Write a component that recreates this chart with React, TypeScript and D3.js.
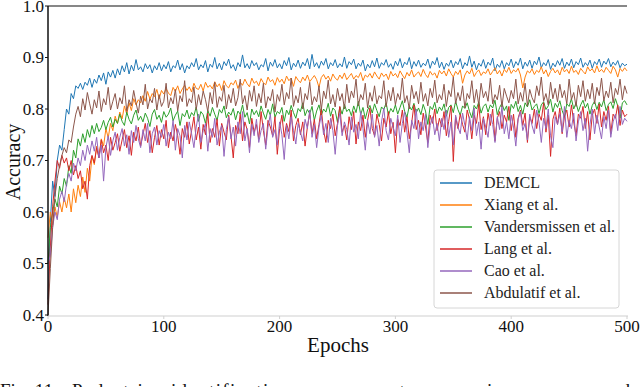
import React from 'react';
import * as d3 from 'd3';

// one reading every 2 epochs, 0..500
const epochs = d3.range(0, 501, 2);

const demcl = [
  0.43, 0.58, 0.66, 0.63, 0.70, 0.73, 0.72, 0.76, 0.80, 0.79,
  0.83, 0.82, 0.845, 0.84, 0.85, 0.838, 0.852, 0.846, 0.86, 0.842,
  0.858, 0.85, 0.866, 0.855, 0.87, 0.848, 0.872, 0.862, 0.875, 0.86,
  0.878, 0.866, 0.884, 0.872, 0.89, 0.868, 0.885, 0.874, 0.896, 0.876,
  0.882, 0.872, 0.888, 0.878, 0.886, 0.87, 0.884, 0.876, 0.89, 0.874,
  0.886, 0.878, 0.892, 0.872, 0.884, 0.88, 0.895, 0.876, 0.888, 0.87,
  0.884, 0.878, 0.89, 0.882, 0.898, 0.876, 0.886, 0.88, 0.894, 0.872,
  0.887, 0.881, 0.9, 0.878, 0.889, 0.876, 0.892, 0.884, 0.897, 0.879,
  0.886, 0.874, 0.89, 0.882, 0.905, 0.88, 0.888, 0.878, 0.894, 0.884,
  0.89, 0.876, 0.886, 0.882, 0.898, 0.874, 0.891, 0.883, 0.896, 0.88,
  0.888, 0.878, 0.894, 0.884, 0.9, 0.876, 0.889, 0.882, 0.895, 0.879,
  0.891, 0.884, 0.898, 0.878, 0.906, 0.882, 0.89, 0.879, 0.893, 0.885,
  0.898, 0.878, 0.89, 0.884, 0.896, 0.88, 0.888, 0.882, 0.901, 0.879,
  0.892, 0.886, 0.897, 0.878, 0.889, 0.883, 0.895, 0.874, 0.887, 0.88,
  0.894, 0.882, 0.899, 0.879, 0.89, 0.885, 0.896, 0.881, 0.888, 0.877,
  0.893, 0.884, 0.898, 0.88, 0.891, 0.886, 0.9, 0.878, 0.892, 0.883,
  0.895, 0.881, 0.889, 0.884, 0.897, 0.879, 0.893, 0.886, 0.9, 0.88,
  0.891, 0.877, 0.889, 0.883, 0.895, 0.88, 0.892, 0.886, 0.898, 0.878,
  0.89, 0.884, 0.903, 0.881, 0.893, 0.876, 0.889, 0.883, 0.896, 0.879,
  0.891, 0.885, 0.899, 0.874, 0.887, 0.881, 0.894, 0.878, 0.89, 0.884,
  0.897, 0.88, 0.892, 0.885, 0.899, 0.878, 0.891, 0.883, 0.895, 0.879,
  0.893, 0.886, 0.901, 0.88, 0.89, 0.884, 0.896, 0.877, 0.889, 0.882,
  0.894, 0.885, 0.898, 0.879, 0.891, 0.884, 0.897, 0.88, 0.892, 0.886,
  0.899, 0.881, 0.89, 0.884, 0.895, 0.879, 0.892, 0.886, 0.897, 0.881,
  0.893, 0.887, 0.898, 0.882, 0.891, 0.885, 0.894, 0.88, 0.889, 0.884,
  0.887,
];

const xiang = [
  0.55, 0.60, 0.575, 0.61, 0.59, 0.62, 0.60, 0.628, 0.608, 0.635,
  0.60, 0.645, 0.618, 0.652, 0.63, 0.668, 0.638, 0.685, 0.66, 0.708,
  0.692, 0.728, 0.706, 0.742, 0.728, 0.762, 0.744, 0.772, 0.758, 0.786,
  0.772, 0.794, 0.781, 0.806, 0.79, 0.812, 0.797, 0.82, 0.808, 0.818,
  0.812, 0.826, 0.815, 0.834, 0.819, 0.83, 0.824, 0.838, 0.82, 0.836,
  0.829, 0.84, 0.831, 0.826, 0.842, 0.834, 0.845, 0.83, 0.839, 0.846,
  0.836, 0.843, 0.833, 0.85, 0.84, 0.838, 0.848, 0.835, 0.852, 0.842,
  0.846, 0.839, 0.853, 0.843, 0.849, 0.836, 0.855, 0.845, 0.841, 0.851,
  0.847, 0.856, 0.84, 0.852, 0.846, 0.858, 0.849, 0.843, 0.86, 0.85,
  0.854, 0.845, 0.859, 0.851, 0.847, 0.862, 0.853, 0.857, 0.846, 0.861,
  0.852, 0.858, 0.849, 0.864, 0.855, 0.86, 0.844, 0.863, 0.856, 0.851,
  0.862, 0.855, 0.866, 0.853, 0.859, 0.865, 0.857, 0.842, 0.861, 0.867,
  0.858, 0.864, 0.854, 0.868, 0.86, 0.856, 0.866, 0.859, 0.87, 0.857,
  0.863, 0.869, 0.858, 0.865, 0.861, 0.871, 0.855, 0.866, 0.862, 0.869,
  0.86, 0.872, 0.864, 0.858, 0.87, 0.863, 0.868, 0.857, 0.873, 0.864,
  0.869, 0.861, 0.874, 0.866, 0.859, 0.871, 0.864, 0.876, 0.862, 0.868,
  0.872, 0.863, 0.877, 0.867, 0.861, 0.873, 0.866, 0.87, 0.86, 0.875,
  0.868, 0.874, 0.864, 0.878, 0.869, 0.862, 0.873, 0.867, 0.876, 0.85,
  0.866, 0.874, 0.868, 0.879, 0.863, 0.871, 0.876, 0.865, 0.872, 0.869,
  0.878, 0.866, 0.873, 0.88, 0.868, 0.875, 0.864, 0.877, 0.871, 0.881,
  0.869, 0.876, 0.872, 0.879, 0.866, 0.841, 0.862, 0.874, 0.87, 0.878,
  0.867, 0.875, 0.871, 0.882, 0.868, 0.876, 0.863, 0.873, 0.879, 0.87,
  0.876, 0.866, 0.881, 0.872, 0.877, 0.869, 0.883, 0.871, 0.875, 0.867,
  0.879, 0.873, 0.868, 0.882, 0.874, 0.878, 0.87, 0.884, 0.872, 0.877,
  0.871, 0.881, 0.875, 0.869, 0.883, 0.876, 0.862, 0.879, 0.873, 0.88,
  0.874,
];

const vandersmissen = [
  0.50, 0.57, 0.60, 0.625, 0.61, 0.65, 0.635, 0.665, 0.65, 0.69,
  0.675, 0.72, 0.705, 0.742, 0.728, 0.752, 0.735, 0.76, 0.745, 0.768,
  0.752, 0.772, 0.756, 0.764, 0.778, 0.76, 0.774, 0.784, 0.765, 0.78,
  0.772, 0.79, 0.776, 0.768, 0.794, 0.78, 0.771, 0.788, 0.798, 0.778,
  0.786, 0.775, 0.792, 0.782, 0.766, 0.79, 0.799, 0.78, 0.788, 0.774,
  0.795, 0.784, 0.79, 0.802, 0.777, 0.788, 0.796, 0.768, 0.791, 0.785,
  0.798, 0.781, 0.793, 0.787, 0.804, 0.776, 0.795, 0.789, 0.772, 0.797,
  0.786, 0.803, 0.79, 0.778, 0.799, 0.792, 0.806, 0.783, 0.794, 0.788,
  0.801, 0.779, 0.796, 0.79, 0.808, 0.784, 0.793, 0.771, 0.8, 0.789,
  0.797, 0.785, 0.806, 0.792, 0.78, 0.799, 0.788, 0.81, 0.784, 0.795,
  0.791, 0.803, 0.776, 0.798, 0.789, 0.807, 0.793, 0.782, 0.801, 0.795,
  0.812, 0.787, 0.799, 0.791, 0.805, 0.778, 0.796, 0.808, 0.788, 0.8,
  0.794, 0.811, 0.786, 0.802, 0.797, 0.774, 0.804, 0.79, 0.809, 0.795,
  0.8, 0.787, 0.806, 0.793, 0.815, 0.789, 0.803, 0.781, 0.798, 0.807,
  0.792, 0.81, 0.797, 0.785, 0.804, 0.799, 0.812, 0.788, 0.801, 0.794,
  0.808, 0.79, 0.803, 0.816, 0.795, 0.784, 0.806, 0.798, 0.811, 0.793,
  0.802, 0.789, 0.809, 0.796, 0.77, 0.805, 0.799, 0.813, 0.791, 0.804,
  0.797, 0.81, 0.786, 0.803, 0.808, 0.793, 0.815, 0.799, 0.788, 0.806,
  0.801, 0.812, 0.795, 0.783, 0.807, 0.8, 0.814, 0.792, 0.805, 0.81,
  0.794, 0.808, 0.802, 0.817, 0.789, 0.803, 0.811, 0.797, 0.806, 0.778,
  0.809, 0.801, 0.815, 0.795, 0.807, 0.79, 0.812, 0.804, 0.818, 0.798,
  0.805, 0.81, 0.791, 0.808, 0.814, 0.799, 0.806, 0.819, 0.794, 0.811,
  0.803, 0.816, 0.797, 0.785, 0.81, 0.805, 0.82, 0.8, 0.812, 0.795,
  0.808, 0.817, 0.802, 0.811, 0.79, 0.807, 0.815, 0.799, 0.813, 0.804,
  0.818, 0.797, 0.809, 0.814, 0.801, 0.82, 0.806, 0.782, 0.812, 0.816,
  0.808,
];

const lang = [
  0.42, 0.53, 0.61, 0.66, 0.70, 0.685, 0.71, 0.695, 0.705, 0.68,
  0.70, 0.672, 0.69, 0.665, 0.68, 0.645, 0.66, 0.625, 0.69, 0.71,
  0.695, 0.725, 0.705, 0.74, 0.715, 0.73, 0.70, 0.745, 0.72, 0.735,
  0.752, 0.718, 0.74, 0.76, 0.725, 0.748, 0.71, 0.755, 0.738, 0.765,
  0.728, 0.75, 0.772, 0.735, 0.758, 0.715, 0.745, 0.768, 0.73, 0.76,
  0.742, 0.778, 0.725, 0.755, 0.738, 0.77, 0.748, 0.712, 0.762, 0.745,
  0.775, 0.732, 0.758, 0.785, 0.74, 0.765, 0.722, 0.77, 0.75, 0.792,
  0.735, 0.762, 0.745, 0.78, 0.728, 0.772, 0.755, 0.74, 0.788, 0.748,
  0.705, 0.768, 0.752, 0.79, 0.738, 0.775, 0.76, 0.725, 0.782, 0.755,
  0.77, 0.742, 0.795, 0.758, 0.73, 0.778, 0.765, 0.748, 0.785, 0.712,
  0.762, 0.788, 0.745, 0.772, 0.756, 0.798, 0.738, 0.768, 0.782, 0.75,
  0.775, 0.728, 0.765, 0.792, 0.752, 0.78, 0.742, 0.77, 0.8, 0.758,
  0.735, 0.778, 0.762, 0.79, 0.748, 0.772, 0.805, 0.755, 0.768, 0.74,
  0.785, 0.76, 0.795, 0.732, 0.775, 0.758, 0.788, 0.745, 0.778, 0.802,
  0.762, 0.748, 0.79, 0.77, 0.738, 0.782, 0.765, 0.795, 0.752, 0.774,
  0.715, 0.78, 0.768, 0.798, 0.755, 0.785, 0.742, 0.772, 0.808, 0.76,
  0.778, 0.75, 0.792, 0.765, 0.735, 0.788, 0.772, 0.8, 0.758, 0.782,
  0.765, 0.795, 0.748, 0.776, 0.806, 0.698, 0.785, 0.762, 0.79, 0.77,
  0.755, 0.798, 0.78, 0.742, 0.788, 0.772, 0.81, 0.76, 0.785, 0.75,
  0.792, 0.768, 0.8, 0.738, 0.782, 0.795, 0.762, 0.788, 0.775, 0.805,
  0.758, 0.79, 0.745, 0.782, 0.798, 0.768, 0.792, 0.735, 0.785, 0.772,
  0.8, 0.762, 0.79, 0.778, 0.812, 0.755, 0.788, 0.708, 0.78, 0.795,
  0.77, 0.802, 0.752, 0.785, 0.798, 0.765, 0.808, 0.775, 0.748, 0.79,
  0.782, 0.805, 0.762, 0.795, 0.74, 0.788, 0.8, 0.772, 0.81, 0.765,
  0.795, 0.778, 0.805, 0.752, 0.79, 0.782, 0.808, 0.768, 0.798, 0.785,
  0.79,
];

const cao = [
  0.50, 0.515, 0.57, 0.60, 0.585, 0.625, 0.64, 0.62, 0.655, 0.675,
  0.66, 0.695, 0.68, 0.705, 0.69, 0.72, 0.70, 0.73, 0.712, 0.738,
  0.718, 0.745, 0.705, 0.73, 0.66, 0.725, 0.748, 0.71, 0.738, 0.755,
  0.72, 0.745, 0.762, 0.728, 0.75, 0.712, 0.758, 0.735, 0.768, 0.742,
  0.725, 0.76, 0.738, 0.772, 0.715, 0.752, 0.765, 0.73, 0.758, 0.745,
  0.77, 0.728, 0.755, 0.742, 0.778, 0.72, 0.762, 0.748, 0.705, 0.768,
  0.74, 0.775, 0.752, 0.725, 0.765, 0.79, 0.735, 0.758, 0.772, 0.718,
  0.762, 0.745, 0.782, 0.73, 0.755, 0.768, 0.708, 0.76, 0.785, 0.742,
  0.765, 0.728, 0.775, 0.752, 0.795, 0.738, 0.762, 0.715, 0.77, 0.748,
  0.78, 0.735, 0.758, 0.772, 0.722, 0.765, 0.79, 0.745, 0.76, 0.73,
  0.775, 0.75, 0.702, 0.768, 0.742, 0.785, 0.758, 0.732, 0.772, 0.755,
  0.738, 0.78, 0.762, 0.798, 0.745, 0.77, 0.725, 0.765, 0.788, 0.75,
  0.772, 0.735, 0.782, 0.758, 0.712, 0.768, 0.792, 0.748, 0.775, 0.76,
  0.73, 0.785, 0.755, 0.77, 0.742, 0.795, 0.762, 0.72, 0.778, 0.752,
  0.79, 0.745, 0.768, 0.728, 0.775, 0.802, 0.758, 0.74, 0.782, 0.765,
  0.748, 0.788, 0.735, 0.772, 0.795, 0.755, 0.715, 0.778, 0.762, 0.8,
  0.742, 0.775, 0.758, 0.79, 0.725, 0.768, 0.785, 0.75, 0.772, 0.738,
  0.782, 0.76, 0.798, 0.745, 0.775, 0.73, 0.788, 0.765, 0.752, 0.792,
  0.768, 0.74, 0.785, 0.758, 0.802, 0.748, 0.775, 0.722, 0.782, 0.765,
  0.745, 0.79, 0.77, 0.735, 0.785, 0.76, 0.805, 0.752, 0.775, 0.742,
  0.788, 0.765, 0.728, 0.78, 0.795, 0.758, 0.772, 0.74, 0.79, 0.768,
  0.752, 0.798, 0.775, 0.735, 0.782, 0.762, 0.8, 0.748, 0.725, 0.785,
  0.77, 0.79, 0.755, 0.805, 0.745, 0.778, 0.762, 0.792, 0.738, 0.775,
  0.795, 0.758, 0.782, 0.718, 0.77, 0.8, 0.752, 0.788, 0.765, 0.742,
  0.785, 0.762, 0.798, 0.745, 0.775, 0.79, 0.758, 0.805, 0.77, 0.782,
  0.776,
];

const abdulatif = [
  0.40, 0.49, 0.57, 0.63, 0.665, 0.69, 0.71, 0.725, 0.715, 0.74,
  0.735, 0.765, 0.79, 0.805, 0.785, 0.82, 0.798, 0.832, 0.81, 0.79,
  0.818, 0.802, 0.835, 0.795, 0.82, 0.808, 0.842, 0.798, 0.815, 0.83,
  0.8, 0.822, 0.81, 0.845, 0.795, 0.818, 0.806, 0.836, 0.812, 0.792,
  0.825, 0.808, 0.848, 0.8, 0.82, 0.812, 0.84, 0.798, 0.828, 0.805,
  0.815, 0.85, 0.802, 0.822, 0.81, 0.838, 0.796, 0.826, 0.814, 0.855,
  0.805, 0.82, 0.812, 0.843, 0.799, 0.828, 0.808, 0.835, 0.818, 0.795,
  0.832, 0.81, 0.852, 0.803, 0.824, 0.815, 0.846, 0.8, 0.828, 0.812,
  0.84, 0.806, 0.822, 0.858, 0.81, 0.826, 0.798, 0.836, 0.815, 0.845,
  0.805, 0.83, 0.812, 0.85, 0.802, 0.824, 0.816, 0.838, 0.794, 0.828,
  0.815, 0.848, 0.808, 0.832, 0.82, 0.86, 0.805, 0.826, 0.812, 0.842,
  0.8, 0.83, 0.818, 0.852, 0.808, 0.824, 0.814, 0.845, 0.798, 0.835,
  0.82, 0.856, 0.81, 0.828, 0.804, 0.84, 0.816, 0.83, 0.8, 0.848,
  0.812, 0.835, 0.822, 0.858, 0.806, 0.828, 0.818, 0.85, 0.802, 0.832,
  0.815, 0.845, 0.81, 0.826, 0.82, 0.855, 0.804, 0.836, 0.816, 0.842,
  0.808, 0.83, 0.818, 0.86, 0.812, 0.826, 0.8, 0.846, 0.82, 0.834,
  0.81, 0.852, 0.815, 0.83, 0.806, 0.84, 0.822, 0.856, 0.812, 0.828,
  0.818, 0.848, 0.805, 0.836, 0.824, 0.862, 0.81, 0.832, 0.816, 0.845,
  0.802, 0.83, 0.82, 0.855, 0.812, 0.838, 0.808, 0.85, 0.822, 0.834,
  0.815, 0.86, 0.81, 0.828, 0.818, 0.846, 0.804, 0.84, 0.825, 0.812,
  0.836, 0.82, 0.858, 0.81, 0.832, 0.815, 0.85, 0.806, 0.838, 0.822,
  0.812, 0.845, 0.826, 0.862, 0.815, 0.83, 0.808, 0.852, 0.82, 0.84,
  0.814, 0.848, 0.822, 0.836, 0.81, 0.858, 0.818, 0.832, 0.805, 0.846,
  0.824, 0.855, 0.815, 0.838, 0.82, 0.85, 0.81, 0.842, 0.826, 0.86,
  0.816, 0.835, 0.822, 0.852, 0.812, 0.84, 0.828, 0.858, 0.818, 0.845,
  0.83,
];

const seriesNames = ['DEMCL', 'Xiang et al.', 'Vandersmissen et al.', 'Lang et al.', 'Cao et al.', 'Abdulatif et al.'];
const seriesValues = [demcl, xiang, vandersmissen, lang, cao, abdulatif];
const seriesColors = ['#1f77b4', '#ff7f0e', '#2ca02c', '#d62728', '#9467bd', '#8c564b'];

const yTicks = [0.4, 0.5, 0.6, 0.7, 0.8, 0.9, 1.0];
const xTicks = [0, 100, 200, 300, 400, 500];

const serif = "'Liberation Serif', 'Times New Roman', serif";

export default function App() {
  const x = d3.scaleLinear().domain([0, 500]).range([48, 627]);
  const y = d3.scaleLinear().domain([0.4, 1.0]).range([315, 6]);
  const line = d3
    .line<number>()
    .x((_, i) => x(epochs[i]))
    .y(d => y(d));

  const legendX = 434;
  const legendY = 170;
  const txt = {fontFamily: serif};

  return (
    <svg
      width={640}
      height={387}
      style={{position: 'absolute', left: 0, top: 0, background: '#fff', fontFamily: serif}}
    >
      {/* series, drawn in legend order so the last one ends up on top */}
      {seriesValues.map((vals, i) => (
        <path key={seriesNames[i]} d={line(vals) || ''} fill="none" stroke={seriesColors[i]} strokeWidth={1} />
      ))}

      {/* axes: black left and top, light grey bottom */}
      <line x1={48} x2={48} y1={6} y2={316} stroke="#111" strokeWidth={1.5} />
      <line x1={48} x2={627} y1={6} y2={6} stroke="#111" strokeWidth={1.2} />
      <line x1={48} x2={628} y1={316} y2={316} stroke="#cfcfcf" strokeWidth={1.2} />

      {yTicks.map(t => (
        <g key={t}>
          <line x1={45} x2={48} y1={y(t)} y2={y(t)} stroke="#111" strokeWidth={1} />
          <text x={44} y={y(t)} dy="0.33em" textAnchor="end" fontSize={17} fill="#111" style={txt}>
            {t.toFixed(1)}
          </text>
        </g>
      ))}
      {xTicks.map(t => (
        <g key={t}>
          <line x1={x(t)} x2={x(t)} y1={316} y2={319} stroke="#cfcfcf" strokeWidth={1} />
          <text x={x(t)} y={332} textAnchor="middle" fontSize={17} fill="#111" style={txt}>
            {t}
          </text>
        </g>
      ))}

      <text x={338} y={352} textAnchor="middle" fontSize={21} fill="#111" style={txt}>
        Epochs
      </text>
      <text transform="translate(20,162) rotate(-90)" textAnchor="middle" fontSize={20} fill="#111" style={txt}>
        Accuracy
      </text>

      {/* legend */}
      <rect x={legendX} y={legendY} width={185} height={138} rx={3} fill="#fff" fillOpacity={0.85} stroke="#d6d6d6" strokeWidth={1} />
      {seriesNames.map((name, i) => (
        <g key={name} transform={`translate(${legendX}, ${legendY + 13 + i * 22})`}>
          <line x1={6} x2={38} y1={0} y2={0} stroke={seriesColors[i]} strokeWidth={1.5} />
          <text x={50} y={0} dy="0.33em" fontSize={16} fill="#222" style={txt}>
            {name}
          </text>
        </g>
      ))}

      {/* figure caption, cut off by the bottom edge */}
      <text x={0} y={397} fontSize={19} fill="#111" style={txt}>
        Fig. 11.
      </text>
      <text x={72} y={397} fontSize={19} fill="#111" style={txt} textLength={572} lengthAdjust="spacing">
        Pedestrian identification accuracy rate comparisons over epochs
      </text>
    </svg>
  );
}
